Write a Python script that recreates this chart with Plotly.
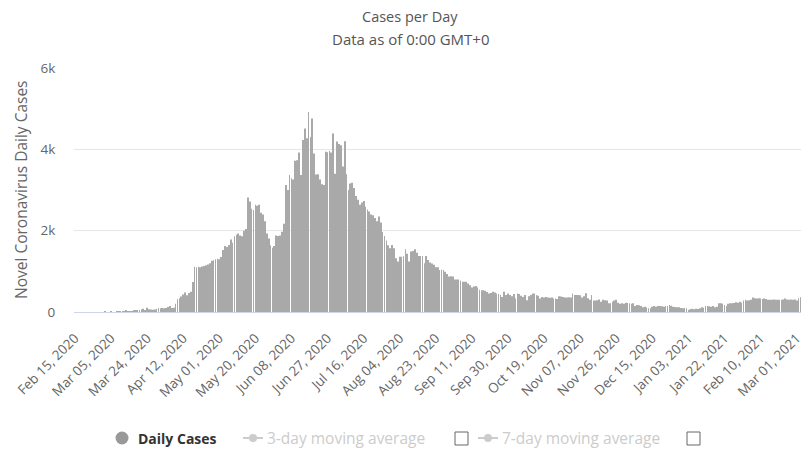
import pandas as pd
import plotly.graph_objects as go

# ---------------- data ----------------
daily_cases = [
    0, 0, 0, 0, 0, 0, 0, 0, 0, 0,
    0, 0, 0, 0, 0, 0, 1, 0, 0, 4,
    0, 0, 6, 4, 5, 1, 24, 41, 17, 15,
    15, 38, 40, 36, 50, 70, 80, 51, 105, 70,
    60, 55, 60, 75, 100, 90, 100, 95, 100, 120,
    150, 100, 105, 200, 315, 340, 380, 430, 480, 410,
    470, 500, 740, 1110, 1100, 1110, 1100, 1120, 1130, 1150,
    1170, 1200, 1260, 1270, 1300, 1310, 1300, 1350, 1525, 1620,
    1600, 1650, 1780, 1700, 1860, 1900, 1930, 1880, 1860, 2000,
    2040, 2815, 2720, 2540, 2510, 2640, 2610, 2640, 2440, 2400,
    2230, 1930, 1810, 1640, 1580, 1620, 1880, 1870, 1880, 1975,
    2170, 3120, 3000, 3370, 3290, 3260, 3720, 3730, 3920, 3370,
    4230, 4510, 4270, 4920, 4300, 4760, 3900, 3380, 3390, 3260,
    3140, 3120, 3940, 3930, 3960, 3920, 4390, 3400, 4190, 4130,
    4100, 3580, 4200, 3390, 3000, 3160, 3180, 3050, 2850, 2760,
    2640, 2690, 2730, 2590, 2520, 2470, 2400, 2380, 2310, 2230,
    2350, 2200, 1970, 1870, 1760, 1640, 1570, 1650, 1570, 1320,
    1240, 1360, 1360, 1370, 1540, 1430, 1240, 1490, 1500, 1545,
    1460, 1380, 1380, 1380, 1200, 1380, 1280, 1215, 1190, 1160,
    1100, 1100, 1030, 1040, 1030, 990, 935, 870, 880, 870,
    800, 800, 800, 770, 745, 745, 745, 700, 660, 600,
    630, 640, 600, 550, 535, 535, 520, 490, 455, 470,
    495, 480, 455, 440, 415, 370, 495, 415, 455, 420,
    390, 440, 330, 455, 440, 400, 370, 415, 290, 390,
    415, 455, 455, 415, 400, 330, 370, 355, 370, 355,
    350, 355, 330, 330, 320, 390, 380, 370, 355, 355,
    360, 355, 455, 420, 415, 420, 410, 355, 390, 460,
    340, 300, 420, 280, 280, 290, 310, 255, 300, 290,
    280, 215, 215, 250, 280, 300, 230, 200, 215, 200,
    230, 220, 215, 200, 215, 150, 175, 165, 150, 115,
    130, 110, 90, 90, 130, 150, 130, 150, 150, 140,
    130, 150, 150, 175, 155, 130, 125, 115, 115, 100,
    90, 100, 95, 50, 65, 80, 65, 80, 75, 90,
    115, 105, 150, 150, 140, 130, 150, 115, 130, 215,
    215, 200, 170, 150, 200, 215, 215, 220, 240, 230,
    250, 230, 280, 300, 280, 290, 300, 355, 340, 330,
    340, 330, 320, 330, 320, 300, 300, 300, 310, 300,
    300, 300, 300, 310, 330, 310, 300, 310, 300, 310,
    280, 340, 360, 350, 340, 360, 310,
]

dates = [d.strftime("%b %d, %Y") for d in
         pd.date_range("2020-02-15", periods=len(daily_cases), freq="D")]

x_tick_labels = [
    "Feb 15, 2020", "Mar 05, 2020", "Mar 24, 2020", "Apr 12, 2020",
    "May 01, 2020", "May 20, 2020", "Jun 08, 2020", "Jun 27, 2020",
    "Jul 16, 2020", "Aug 04, 2020", "Aug 23, 2020", "Sep 11, 2020",
    "Sep 30, 2020", "Oct 19, 2020", "Nov 07, 2020", "Nov 26, 2020",
    "Dec 15, 2020", "Jan 03, 2021", "Jan 22, 2021", "Feb 10, 2021",
    "Mar 01, 2021",
]
y_tick_values = [0, 2000, 4000, 6000]
y_tick_labels = ["0", "2k", "4k", "6k"]

legend_names = ["Daily Cases", "3-day moving average", "7-day moving average"]

# ---------------- geometry ----------------
# The page body has an 8px margin, so the figure is drawn 8px smaller
# and every reference pixel p maps to figure pixel p - 8.
OFF = 8
W, H = 809 - OFF, 450 - OFF
PLOT_L, PLOT_R, PLOT_T, PLOT_B = 74, 809, 68, 312   # reference pixels
L, T = PLOT_L - OFF, PLOT_T - OFF
R, B = W - (PLOT_R - OFF), H - (PLOT_B - OFF)
PW, PH = PLOT_R - PLOT_L, PLOT_B - PLOT_T


def px_x(px):
    return (px - PLOT_L) / PW


def px_y(py):
    return (PLOT_B - py) / PH


FONT = "Open Sans, Noto Sans, sans-serif"

fig = go.Figure()
fig.add_trace(go.Bar(
    x=dates, y=daily_cases, name=legend_names[0],
    marker=dict(color="#a9a9a9", line=dict(width=0)),
    showlegend=False,
))

# ---- legend, drawn by hand (Highcharts style) ----
LEG_Y = 438
shapes = []
annotations = []


def circle(cx, cy, d, color):
    return dict(type="circle", xref="paper", yref="paper",
                xsizemode="pixel", ysizemode="pixel",
                xanchor=px_x(cx), yanchor=px_y(cy),
                x0=-d / 2, x1=d / 2, y0=-d / 2, y1=d / 2,
                fillcolor=color, line=dict(width=0), layer="above")


def hline(xa, xb, cy, color):
    return dict(type="line", xref="paper", yref="paper",
                x0=px_x(xa), x1=px_x(xb), y0=px_y(cy), y1=px_y(cy),
                line=dict(color=color, width=2), layer="above")


def box(xa, xb, ya, yb):
    return dict(type="rect", xref="paper", yref="paper",
                x0=px_x(xa), x1=px_x(xb), y0=px_y(yb), y1=px_y(ya),
                line=dict(color="#666666", width=1), fillcolor="white",
                layer="above")


def label(text, x, color, size, bold=False):
    return dict(text=text, xref="paper", yref="paper",
                x=px_x(x), y=px_y(LEG_Y), xanchor="left", yanchor="middle",
                showarrow=False,
                font=dict(family=FONT, size=size, color=color,
                          weight="bold" if bold else "normal"))


shapes.append(circle(122, LEG_Y, 13, "#999999"))
annotations.append(label(legend_names[0], 136, "#333333", 14, bold=True))

shapes.append(hline(243, 263, LEG_Y, "#cccccc"))
shapes.append(circle(253, LEG_Y, 8, "#cccccc"))
annotations.append(label(legend_names[1], 265, "#cccccc", 15.5))
shapes.append(box(455, 468, 432, 445))

shapes.append(hline(478, 498, LEG_Y, "#cccccc"))
shapes.append(circle(488, LEG_Y, 8, "#cccccc"))
annotations.append(label(legend_names[2], 500, "#cccccc", 15.5))
shapes.append(box(687, 700, 432, 445))

# titles and y axis title
annotations.append(dict(text="Cases per Day", xref="paper", yref="paper",
                        x=px_x(410), y=px_y(17), xanchor="center",
                        yanchor="middle", showarrow=False,
                        font=dict(family=FONT, size=14.5, color="#555555")))
annotations.append(dict(text="Data as of 0:00 GMT+0", xref="paper",
                        yref="paper", x=px_x(411), y=px_y(39),
                        xanchor="center", yanchor="middle", showarrow=False,
                        font=dict(family=FONT, size=15, color="#555555")))
annotations.append(dict(text="Novel Coronavirus Daily Cases", textangle=-90,
                        xref="paper", yref="paper", x=px_x(21), y=0.5,
                        xanchor="center", yanchor="middle", showarrow=False,
                        font=dict(family=FONT, size=15.5, color="#666666")))

fig.update_layout(
    width=W, height=H,
    margin=dict(l=L, r=R, t=T, b=B, pad=0, autoexpand=False),
    paper_bgcolor="white", plot_bgcolor="white",
    font=dict(family=FONT, color="#666666"),
    bargap=0.6,
    showlegend=False,
    xaxis=dict(type="category", categoryorder="array", categoryarray=dates,
               range=[-0.5, len(dates) - 0.5],
               tickmode="array", tickvals=x_tick_labels, ticktext=x_tick_labels,
               tickangle=-45,
               tickfont=dict(family=FONT, size=13.5, color="#666666"),
               ticks="outside", ticklen=12, tickcolor="rgba(0,0,0,0)",
               showgrid=False, showline=True, linecolor="#ccd6eb", linewidth=1,
               zeroline=False, fixedrange=True, automargin=False),
    yaxis=dict(range=[0, 6000], tickmode="array", tickvals=y_tick_values,
               ticktext=y_tick_labels,
               tickfont=dict(family=FONT, size=13.5, color="#666666"),
               ticks="outside", ticklen=15, tickcolor="rgba(0,0,0,0)",
               showgrid=True, gridcolor="#e6e6e6", gridwidth=1,
               zeroline=False, showline=False, fixedrange=True,
               automargin=False),
    annotations=annotations,
    shapes=shapes,
)

fig.write_html("out.html")
